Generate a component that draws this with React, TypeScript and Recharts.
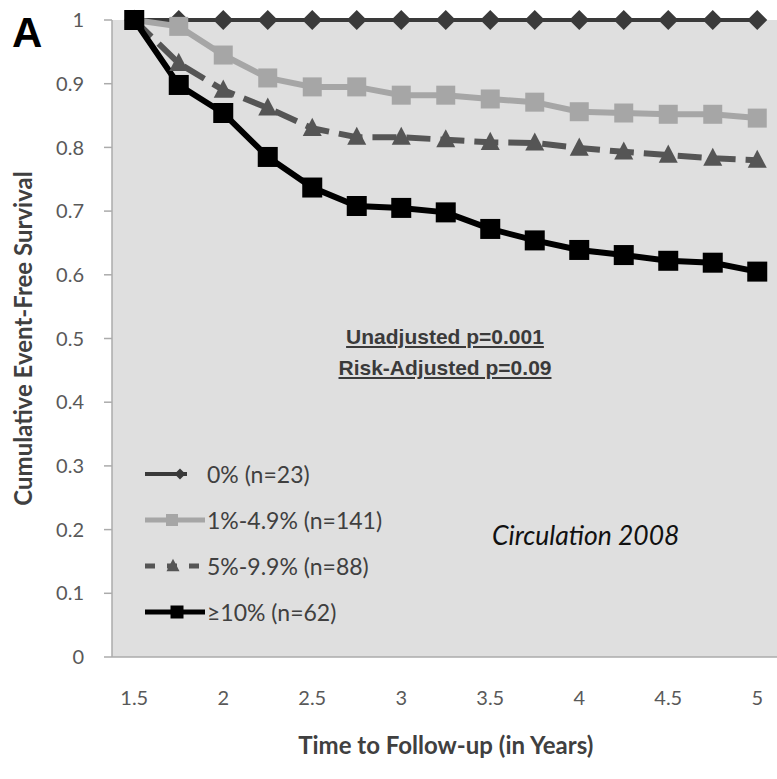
import React from 'react';
import { LineChart, Line, XAxis, YAxis, CartesianGrid, Legend } from 'recharts';

// follow-up times (years), one category per quarter year
const years = [1.5, 1.75, 2, 2.25, 2.5, 2.75, 3, 3.25, 3.5, 3.75, 4, 4.25, 4.5, 4.75, 5];

// cumulative event-free survival
const survivalZero = [1, 1, 1, 1, 1, 1, 1, 1, 1, 1, 1, 1, 1, 1, 1];
const survivalLow = [1, 0.99, 0.945, 0.909, 0.895, 0.895, 0.882, 0.882, 0.876, 0.871, 0.856, 0.854, 0.852, 0.852, 0.846];
const survivalMid = [1, 0.932, 0.89, 0.862, 0.83, 0.816, 0.816, 0.812, 0.808, 0.807, 0.799, 0.793, 0.788, 0.783, 0.78];
const survivalHigh = [1, 0.898, 0.854, 0.785, 0.737, 0.708, 0.705, 0.698, 0.672, 0.654, 0.639, 0.631, 0.622, 0.619, 0.605];

const seriesNames = ['0% (n=23)', '1%-4.9% (n=141)', '5%-9.9% (n=88)', '≥10% (n=62)'];
const yTicks = [0, 0.1, 0.2, 0.3, 0.4, 0.5, 0.6, 0.7, 0.8, 0.9, 1];
const xLabelTicks = [1.5, 2, 2.5, 3, 3.5, 4, 4.5, 5];

const pValueLines = ['Unadjusted p=0.001', 'Risk-Adjusted p=0.09'];
const sourceNote = 'Circulation 2008';
const panelLetter = 'A';

const data = years.map((t, i) => ({
  t,
  zero: survivalZero[i],
  low: survivalLow[i],
  mid: survivalMid[i],
  high: survivalHigh[i],
}));

// tick marks sit between categories, like the original Excel chart
const step = years[1] - years[0];
const edges = [...years.map((y) => y - step / 2), years[years.length - 1] + step / 2];
const xDomain = [edges[0], edges[edges.length - 1]];

const FONT = 'Lato, "Open Sans", sans-serif';
const AXIS_GRAY = '#ababab';

type Shape = 'diamond' | 'square' | 'triangle';

const seriesStyles = [
  { key: 'zero', color: '#3a3a3a', width: 4, dash: undefined, shape: 'diamond' as Shape, size: 20, legendSize: 11, legendLine: 42, legendMarkerX: 35 },
  { key: 'low', color: '#a6a6a6', width: 6, dash: undefined, shape: 'square' as Shape, size: 19, legendSize: 12, legendLine: 60, legendMarkerX: 27 },
  { key: 'mid', color: '#555555', width: 6, dash: '24 10', shape: 'triangle' as Shape, size: 19, legendSize: 13, legendLine: 60, legendMarkerX: 28 },
  { key: 'high', color: '#000000', width: 6, dash: undefined, shape: 'square' as Shape, size: 20, legendSize: 13, legendLine: 60, legendMarkerX: 32 },
];

const Marker = ({ shape, cx, cy, size, color }: { shape: Shape; cx: number; cy: number; size: number; color: string }) => {
  const h = size / 2;
  if (shape === 'square') {
    return <rect x={cx - h} y={cy - h} width={size} height={size} fill={color} />;
  }
  if (shape === 'diamond') {
    return <polygon points={`${cx},${cy - h} ${cx + h},${cy} ${cx},${cy + h} ${cx - h},${cy}`} fill={color} />;
  }
  return (
    <polygon
      points={`${cx},${cy - size * 0.55} ${cx + h},${cy + size * 0.4} ${cx - h},${cy + size * 0.4}`}
      fill={color}
    />
  );
};

const makeDot = (style: (typeof seriesStyles)[number]) => (props: any) => {
  const { cx, cy, index } = props;
  if (cx == null || cy == null) return <g key={`${style.key}-${index}`} />;
  return (
    <g key={`${style.key}-${index}`}>
      <Marker shape={style.shape} cx={cx} cy={cy} size={style.size} color={style.color} />
    </g>
  );
};

const LegendContent = (props: any) => {
  const payload = props.payload || [];
  return (
    <div style={{ fontFamily: FONT, fontSize: 23, color: '#404040' }}>
      {payload.map((entry: any) => {
        const s = seriesStyles.find((st) => st.key === entry.dataKey) || seriesStyles[0];
        return (
          <div key={entry.dataKey} style={{ display: 'flex', alignItems: 'center', height: 46 }}>
            <svg width={62} height={24} style={{ flex: 'none' }}>
              <line
                x1={0}
                y1={12}
                x2={s.legendLine}
                y2={12}
                stroke={s.color}
                strokeWidth={s.width === 4 ? 4 : 5}
                strokeDasharray={s.dash ? '10 12' : undefined}
              />
              <Marker shape={s.shape} cx={s.legendMarkerX} cy={12} size={s.legendSize} color={s.color} />
            </svg>
            <span style={{ whiteSpace: 'nowrap' }}>{entry.value}</span>
          </div>
        );
      })}
    </div>
  );
};

const tickStyle = { fill: '#595959', fontSize: 20, fontFamily: FONT };
const titleStyle = { fontFamily: FONT, fontSize: 24, fontWeight: 700, fill: '#404040' };

export default function App() {
  return (
    <div
      style={{
        position: 'absolute',
        left: 0,
        top: 0,
        width: 777,
        height: 779,
        overflow: 'hidden',
        background: '#ffffff',
      }}
    >
      <LineChart width={800} height={779} data={data} margin={{ top: 20, right: 20.5, bottom: 0, left: 0 }}>
        <CartesianGrid xAxisId="a" horizontal={false} vertical={false} fill="#dfdfdf" stroke="none" />
        <XAxis
          xAxisId="a"
          dataKey="t"
          type="number"
          domain={xDomain}
          allowDataOverflow
          ticks={edges}
          interval={0}
          tick={false}
          tickSize={9}
          height={10}
          axisLine={{ stroke: AXIS_GRAY, strokeWidth: 1.5 }}
          tickLine={{ stroke: AXIS_GRAY, strokeWidth: 1.5 }}
        />
        <XAxis
          xAxisId="b"
          dataKey="t"
          type="number"
          domain={xDomain}
          allowDataOverflow
          ticks={xLabelTicks}
          interval={0}
          axisLine={false}
          tickLine={false}
          tickSize={6}
          tickMargin={18}
          height={112}
          tick={tickStyle}
          label={{
            value: 'Time to Follow-up (in Years)',
            position: 'insideBottom',
            offset: 25,
            style: titleStyle,
          }}
        />
        <YAxis
          type="number"
          domain={[0, 1]}
          ticks={yTicks}
          interval={0}
          width={112}
          tickSize={8}
          tickMargin={20}
          tick={tickStyle}
          axisLine={{ stroke: AXIS_GRAY, strokeWidth: 1.5 }}
          tickLine={{ stroke: AXIS_GRAY, strokeWidth: 1.5 }}
          label={{
            value: 'Cumulative Event-Free Survival',
            angle: -90,
            position: 'insideLeft',
            offset: 23,
            style: { ...titleStyle, textAnchor: 'middle' },
          }}
        />
        {seriesStyles.map((s, i) => (
          <Line
            key={s.key}
            xAxisId="a"
            type="linear"
            dataKey={s.key}
            name={seriesNames[i]}
            stroke={s.color}
            strokeWidth={s.width}
            strokeDasharray={s.dash}
            dot={makeDot(s)}
            activeDot={false}
            isAnimationActive={false}
          />
        ))}
        <Legend
          layout="vertical"
          align="center"
          verticalAlign="middle"
          wrapperStyle={{ left: 145, top: 451, width: 'auto' }}
          content={LegendContent}
        />
      </LineChart>

      <div
        style={{
          position: 'absolute',
          left: 12,
          top: 12,
          fontFamily: '"Liberation Sans", Arial, sans-serif',
          fontWeight: 700,
          fontSize: 42,
          lineHeight: '42px',
          color: '#000',
        }}
      >
        {panelLetter}
      </div>

      <div
        style={{
          position: 'absolute',
          left: 445,
          top: 321,
          transform: 'translateX(-50%)',
          textAlign: 'center',
          fontFamily: '"Liberation Sans", Arial, sans-serif',
          fontWeight: 700,
          fontSize: 21,
          lineHeight: '31px',
          color: '#3a3a3a',
          whiteSpace: 'nowrap',
        }}
      >
        {pValueLines.map((l) => (
          <div key={l} style={{ textDecoration: 'underline' }}>
            {l}
          </div>
        ))}
      </div>

      <div
        style={{
          position: 'absolute',
          left: 492,
          top: 518,
          fontFamily: FONT,
          fontStyle: 'italic',
          fontSize: 26.5,
          lineHeight: '34px',
          color: '#111',
          whiteSpace: 'nowrap',
        }}
      >
        {sourceNote}
      </div>
    </div>
  );
}
